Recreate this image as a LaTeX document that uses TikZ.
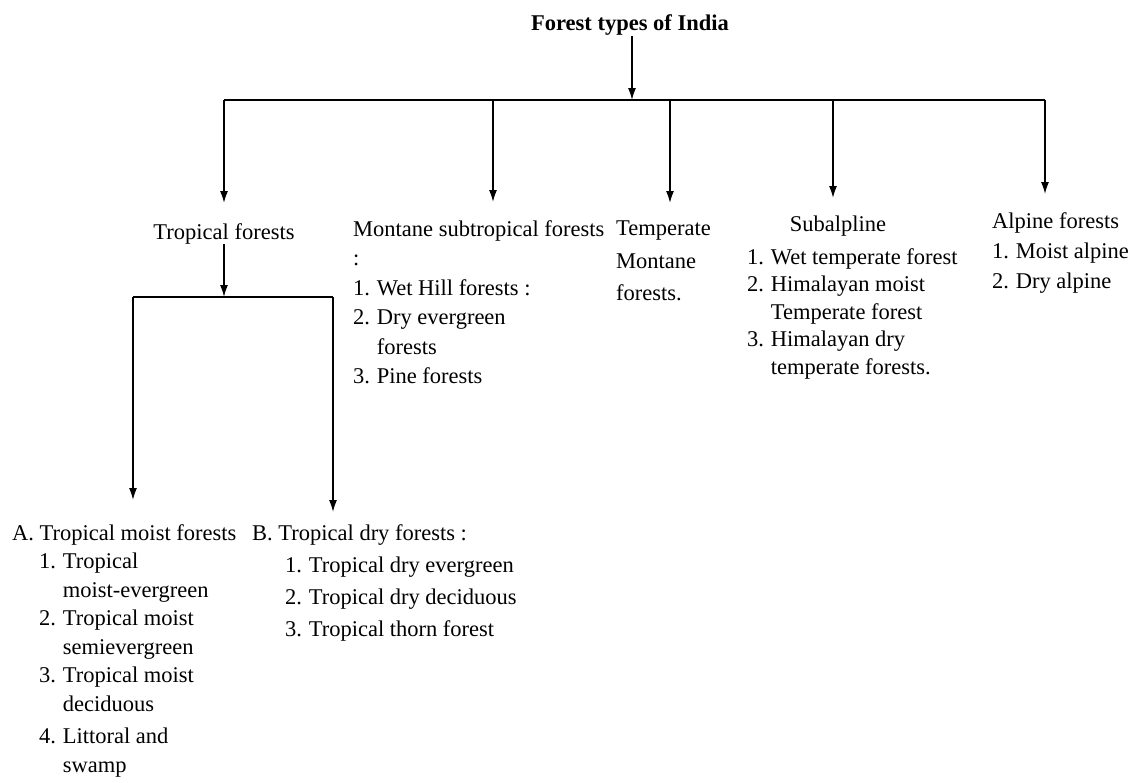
\documentclass[tikz,border=0pt]{standalone}
\usepackage{fontspec}
\setmainfont{Liberation Serif}
\usetikzlibrary{arrows.meta}
\newcommand{\nr}[1]{\makebox[1.05em][l]{#1}}
\newcommand{\cont}{\hspace*{1.05em}}
\begin{document}
\begin{tikzpicture}[x=1pt,y=-1pt]
\tikzset{every node/.style={inner sep=0pt,font=\fontsize{22.5}{29.5}\selectfont},
  blk/.style={anchor=north west,align=left},
  branch/.style={line width=1.6pt},
  arr/.style={branch,-{Latex[length=12pt,width=8pt]}}}
\useasboundingbox (0,0) rectangle (1135,782);
\node (root) at (630,25) {\bfseries Forest types of India};
\coordinate (hub) at (632,100);
\draw [arr] (root.south -| hub) -- (hub);
\coordinate (bTrop) at (224,100);
\coordinate (bMont) at (493,100);
\coordinate (bTemp) at (670,100);
\coordinate (bSub) at (833,100);
\coordinate (bAlp) at (1045,100);
\draw [branch,line width=2pt] (bTrop) -- (bAlp);
\node [anchor=north] (trop) at (224,223) {Tropical forests};
\node [blk] (mont) at (353,220) {Montane subtropical forests\\:\\\nr{1.}Wet Hill forests :\\\nr{2.}Dry evergreen\\\cont forests\\\nr{3.}Pine forests};
\node [blk,font=\fontsize{22.5}{32.5}\selectfont] (temp) at (616,221) {Temperate\\Montane\\forests.};
\node [anchor=north] (subT) at (838,216) {Subalpline};
\node [blk,font=\fontsize{22.5}{27.5}\selectfont] (subL) at (747,248) {\nr{1.}Wet temperate forest\\\nr{2.}Himalayan moist\\\cont Temperate forest\\\nr{3.}Himalayan dry\\\cont temperate forests.};
\node [blk,font=\fontsize{22.5}{30}\selectfont] (alp) at (992,212) {Alpine forests\\\nr{1.}Moist alpine\\\nr{2.}Dry alpine};
\draw [arr,shorten >=20pt] (bTrop) -- (bTrop |- trop.north);
\draw [arr,shorten >=18pt] (bMont) -- (bMont |- mont.north);
\draw [arr,shorten >=18pt] (bTemp) -- (bTemp |- temp.north);
\draw [arr,shorten >=18pt] (bSub) -- (bSub |- subT.north);
\draw [arr,shorten >=18pt] (bAlp) -- (bAlp |- alp.north);
% tropical forests split
\coordinate (tHub) at (224,297);
\coordinate (tA) at (133,297);
\coordinate (tB) at (333,297);
\draw [arr] (trop.south -| tHub) -- (tHub);
\draw [branch,line width=2pt] (tA) -- (tB);
\node [blk,font=\fontsize{22.5}{28.5}\selectfont] (moist) at (12,524) {A. Tropical moist forests\\
\hspace*{27pt}\nr{1.}Tropical\\\hspace*{27pt}\cont moist-evergreen\\
\hspace*{27pt}\nr{2.}Tropical moist\\\hspace*{27pt}\cont semievergreen\\
\hspace*{27pt}\nr{3.}Tropical moist\\\hspace*{27pt}\cont deciduous\\[4pt]
\hspace*{27pt}\nr{4.}Littoral and\\\hspace*{27pt}\cont swamp};
\node [blk,font=\fontsize{22.5}{32}\selectfont] (dry) at (252,524) {B. Tropical dry forests :\\
\hspace*{33pt}\nr{1.}Tropical dry evergreen\\
\hspace*{33pt}\nr{2.}Tropical dry deciduous\\
\hspace*{33pt}\nr{3.}Tropical thorn forest};
\draw [arr,shorten >=24pt] (tA) -- (tA |- moist.north);
\draw [arr,shorten >=12pt] (tB) -- (tB |- dry.north);
\end{tikzpicture}
\end{document}
